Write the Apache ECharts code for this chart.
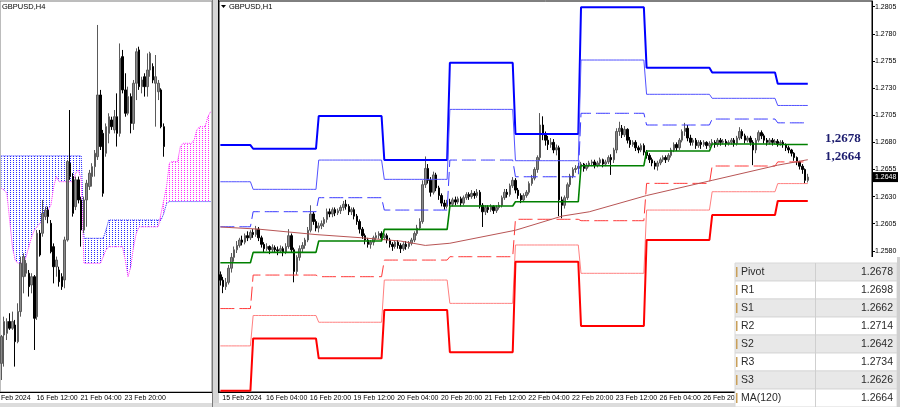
<!DOCTYPE html>
<html><head><meta charset="utf-8">
<script src="https://cdn.jsdelivr.net/npm/echarts@6/dist/echarts.min.js"></script>
<style>html,body{margin:0;padding:0;background:#fff}#c{width:900px;height:407px}</style>
</head><body><div id="c"></div>
<script>
// ---------- DATA ----------
// H4 candles (left panel) [open, close, low, high]
const h4Candles = [
[1.25423,1.25555,1.25341,1.25563],[1.25563,1.25629,1.25407,1.25653],[1.25571,1.25629,1.25538,1.25645],
[1.25629,1.25596,1.25588,1.2567],[1.25596,1.25629,1.25588,1.25678],[1.25612,1.2553,1.25407,1.25637],
[1.2553,1.25678,1.25522,1.25719],[1.25678,1.25916,1.25653,1.25949],[1.2585,1.25949,1.25768,1.25965],
[1.25867,1.25916,1.2585,1.25932],[1.25867,1.25801,1.25752,1.25883],[1.25809,1.2585,1.25768,1.25867],
[1.2585,1.25645,1.25489,1.25858],[1.25653,1.26064,1.25637,1.2608],[1.26064,1.25957,1.25949,1.2608],
[1.26064,1.26162,1.26047,1.26228],[1.26146,1.26178,1.26129,1.26195],[1.26178,1.26146,1.26113,1.26195],
[1.26113,1.25973,1.25965,1.26129],[1.25998,1.25899,1.25817,1.26014],[1.25899,1.25932,1.2585,1.25949],
[1.25883,1.25825,1.25801,1.25899],[1.2585,1.25801,1.25785,1.25867],[1.25834,1.26031,1.25793,1.26047],
[1.26031,1.26417,1.26023,1.26425],[1.26409,1.26343,1.26327,1.26671],[1.26343,1.26162,1.26146,1.2636],
[1.26195,1.26327,1.26178,1.26343],[1.26327,1.26228,1.26211,1.26343],[1.26228,1.2608,1.25998,1.26244],
[1.2608,1.26228,1.26064,1.26244],[1.26228,1.2631,1.26096,1.26327],[1.26294,1.2636,1.26277,1.26376],
[1.26343,1.26392,1.26294,1.26409],[1.26392,1.26458,1.26343,1.26474],[1.26441,1.26745,1.26425,1.2709],
[1.26745,1.26491,1.26474,1.2677],[1.26556,1.26261,1.26244,1.26573],[1.26458,1.26589,1.26441,1.26605],
[1.26556,1.26638,1.26507,1.26655],[1.26622,1.26589,1.26573,1.26638],[1.26573,1.26638,1.26556,1.26671],
[1.26638,1.26556,1.26491,1.26753],[1.26556,1.26926,1.2654,1.26999],[1.26934,1.2677,1.26753,1.26967],
[1.2677,1.26655,1.26638,1.26852],[1.26655,1.26737,1.26645,1.26786],[1.26737,1.26605,1.26556,1.26753],
[1.26605,1.26803,1.26573,1.26819],[1.26803,1.26958,1.2672,1.26975],[1.26967,1.26786,1.2677,1.26983],
[1.26786,1.26819,1.26753,1.26835],[1.26835,1.26786,1.26737,1.26852],[1.26786,1.26868,1.26737,1.2695],
[1.26868,1.2695,1.26835,1.26958],[1.26885,1.26819,1.26803,1.26901],[1.26803,1.26835,1.26589,1.26942],
[1.26761,1.26803,1.2672,1.26819],[1.2677,1.26589,1.26581,1.26778],[1.26589,1.26491,1.26441,1.26605]
];
// Ichimoku cloud spans (left panel, 26 bars shifted forward)
const spanA = [
1.26445,1.26445,1.26445,1.26445,1.26445,1.26445,1.26445,1.26445,1.26445,1.26445,
1.26445,1.26445,1.26445,1.26445,1.26445,1.26445,1.26445,1.26445,1.26445,1.26445,
1.26445,1.26445,1.26445,1.26445,1.26445,1.26445,1.26445,1.26445,1.26445,1.26445,
1.26039,1.26039,1.26039,1.26039,1.26039,1.26039,1.26039,1.26039,1.2608,
1.26129,1.26129,1.26129,1.26129,1.26129,1.26129,1.26129,1.26129,1.26129,1.26129,
1.26129,1.26129,1.26129,1.26129,1.26129,1.26129,1.26129,1.26129,1.26129,1.26129,
1.26162,1.26211,
1.2622,1.2622,1.2622,1.2622,1.2622,1.2622,1.2622,1.2622,1.2622,1.2622,1.2622,1.2622,1.2622,1.2622,1.2622,1.2622
];
const spanB = [
1.26285,1.26277,1.26261,1.26129,1.25998,1.25932,1.25916,1.25916,1.25916,1.25949,
1.25998,1.26047,1.2608,1.26096,1.26113,1.26129,1.26154,1.26178,1.26203,1.26294,
1.26343,1.26318,1.26318,1.26318,1.26318,1.26318,1.26318,1.2636,1.26376,1.26327,
1.25916,1.25916,1.25916,1.25916,1.25916,1.25916,1.25916,1.25949,1.25982,
1.25998,1.25998,1.25998,1.25998,1.25998,1.25998,1.25932,1.2585,1.25899,1.25998,
1.26064,1.26096,1.26096,1.26096,1.26096,1.26096,1.26096,1.26096,1.26096,1.26162,
1.26228,1.26294,
1.26409,1.26417,1.26417,1.26417,1.26491,1.26507,1.26507,1.26507,1.26507,1.26523,1.26573,1.26589,1.26589,1.26589,1.26638,1.26663
];
const leftTickLabels = {12:'16 Feb 12:00', 28:'21 Feb 04:00', 44:'23 Feb 20:00'};

// H1 candles (right panel) [open, close, low, high]
const h1Candles = [
[1.2558,1.2553,1.2548,1.2561],[1.2553,1.2547,1.2541,1.2556],[1.2547,1.2551,1.2544,1.2555],[1.2551,1.2564,1.2549,1.2567],
[1.2564,1.2574,1.2560,1.2578],[1.2574,1.2581,1.2570,1.2584],[1.2581,1.2585,1.2578,1.2589],[1.2585,1.2590,1.2583,1.2592],
[1.2590,1.2588,1.2585,1.2594],[1.2588,1.2594,1.2586,1.2596],[1.2594,1.2592,1.2589,1.2598],[1.2592,1.2597,1.2590,1.2599],
[1.2597,1.2595,1.2592,1.2600],[1.2595,1.2600,1.2593,1.2603],[1.2600,1.2592,1.2589,1.2602],[1.2592,1.2586,1.2583,1.2594],
[1.2586,1.2582,1.2579,1.2588],[1.2582,1.2584,1.2580,1.2587],[1.2584,1.2581,1.2577,1.2585],[1.2581,1.2583,1.2579,1.2586],
[1.2583,1.2581,1.2578,1.2585],[1.2581,1.2580,1.2576,1.2584],[1.2580,1.2582,1.2578,1.2585],[1.2582,1.2579,1.2575,1.2584],
[1.2579,1.2584,1.2577,1.2587],[1.2584,1.2594,1.2582,1.2600],[1.2594,1.2581,1.2578,1.2596],[1.2581,1.2561,1.2551,1.2583],
[1.2561,1.2574,1.2558,1.2576],[1.2574,1.2582,1.2571,1.2585],[1.2582,1.2585,1.2579,1.2588],[1.2585,1.2590,1.2582,1.2592],
[1.2590,1.2599,1.2588,1.2602],[1.2599,1.2614,1.2597,1.2622],[1.2614,1.2607,1.2604,1.2616],[1.2607,1.2601,1.2598,1.2609],
[1.2601,1.2603,1.2597,1.2606],[1.2603,1.2605,1.2600,1.2608],[1.2605,1.2609,1.2602,1.2611],[1.2609,1.2616,1.2606,1.2619],
[1.2616,1.2614,1.2611,1.2619],[1.2614,1.2618,1.2611,1.2620],[1.2618,1.2615,1.2612,1.2620],[1.2615,1.2617,1.2613,1.2619],
[1.2617,1.2620,1.2614,1.2622],[1.2620,1.2623,1.2617,1.2626],[1.2623,1.2621,1.2618,1.2627],[1.2621,1.2616,1.2613,1.2623],
[1.2616,1.2618,1.2613,1.2620],[1.2618,1.2612,1.2609,1.2620],[1.2612,1.2607,1.2604,1.2614],[1.2607,1.2600,1.2596,1.2609],
[1.2600,1.2594,1.2591,1.2602],[1.2594,1.2590,1.2586,1.2596],[1.2590,1.2586,1.2583,1.2592],[1.2586,1.2588,1.2582,1.2590],
[1.2588,1.2592,1.2585,1.2594],[1.2592,1.2594,1.2590,1.2597],[1.2594,1.2596,1.2591,1.2598],[1.2596,1.2592,1.2589,1.2598],
[1.2592,1.2594,1.2590,1.2596],[1.2594,1.2590,1.2587,1.2596],[1.2590,1.2586,1.2583,1.2592],[1.2586,1.2584,1.2580,1.2588],
[1.2584,1.2588,1.2582,1.2590],[1.2588,1.2585,1.2582,1.2590],[1.2585,1.2582,1.2578,1.2587],[1.2582,1.2586,1.2580,1.2588],
[1.2586,1.2584,1.2581,1.2589],[1.2584,1.2587,1.2582,1.2589],[1.2587,1.2590,1.2585,1.2592],[1.2590,1.2596,1.2588,1.2598],
[1.2596,1.2601,1.2594,1.2604],[1.2601,1.2607,1.2599,1.2610],[1.2607,1.2641,1.2605,1.2645],[1.2641,1.2656,1.2638,1.2667],
[1.2656,1.2645,1.2642,1.2660],[1.2645,1.2634,1.2630,1.2648],[1.2634,1.2650,1.2632,1.2653],[1.2650,1.2638,1.2635,1.2652],
[1.2638,1.2631,1.2627,1.2640],[1.2631,1.2624,1.2621,1.2633],[1.2624,1.2621,1.2618,1.2627],[1.2621,1.2625,1.2619,1.2627],
[1.2625,1.2623,1.2620,1.2628],[1.2623,1.2627,1.2621,1.2629],[1.2627,1.2625,1.2622,1.2630],[1.2625,1.2628,1.2623,1.2630],
[1.2628,1.2624,1.2621,1.2630],[1.2624,1.2629,1.2622,1.2631],[1.2629,1.2632,1.2627,1.2634],[1.2632,1.2630,1.2627,1.2634],
[1.2630,1.2633,1.2628,1.2636],[1.2633,1.2631,1.2628,1.2635],[1.2631,1.2634,1.2629,1.2637],[1.2634,1.2622,1.2619,1.2636],
[1.2622,1.2616,1.2602,1.2624],[1.2616,1.2620,1.2613,1.2622],[1.2620,1.2618,1.2615,1.2622],[1.2618,1.2621,1.2616,1.2623],
[1.2621,1.2617,1.2614,1.2622],[1.2617,1.2620,1.2615,1.2622],[1.2620,1.2622,1.2618,1.2625],[1.2622,1.2629,1.2620,1.2631],
[1.2629,1.2634,1.2627,1.2637],[1.2634,1.2632,1.2629,1.2637],[1.2632,1.2640,1.2630,1.2642],[1.2640,1.2645,1.2638,1.2648],
[1.2645,1.2636,1.2633,1.2647],[1.2636,1.2631,1.2628,1.2638],[1.2631,1.2627,1.2624,1.2633],[1.2627,1.2631,1.2625,1.2633],
[1.2631,1.2634,1.2629,1.2636],[1.2634,1.2642,1.2632,1.2644],[1.2642,1.2647,1.2640,1.2650],[1.2647,1.2655,1.2645,1.2657],
[1.2655,1.2666,1.2652,1.2668],[1.2666,1.2696,1.2663,1.2707],[1.2696,1.2687,1.2682,1.2704],[1.2687,1.2682,1.2677,1.2690],
[1.2682,1.2678,1.2673,1.2686],[1.2678,1.2680,1.2675,1.2684],[1.2680,1.2673,1.2670,1.2683],[1.2673,1.2675,1.2668,1.2678],
[1.2675,1.2627,1.2612,1.2677],[1.2627,1.2622,1.2610,1.2630],[1.2622,1.2629,1.2619,1.2631],[1.2629,1.2641,1.2627,1.2643],
[1.2641,1.2649,1.2639,1.2651],[1.2649,1.2655,1.2647,1.2657],[1.2655,1.2656,1.2652,1.2659],[1.2656,1.2658,1.2654,1.2661],
[1.2658,1.2660,1.2656,1.2662],[1.2660,1.2656,1.2653,1.2661],[1.2656,1.2659,1.2654,1.2661],[1.2659,1.2661,1.2657,1.2663],
[1.2661,1.2662,1.2658,1.2664],[1.2662,1.2659,1.2656,1.2664],[1.2659,1.2661,1.2657,1.2663],[1.2661,1.2664,1.2659,1.2666],
[1.2664,1.2660,1.2657,1.2665],[1.2660,1.2662,1.2658,1.2664],[1.2662,1.2666,1.2660,1.2668],[1.2666,1.2664,1.2650,1.2669],
[1.2664,1.2673,1.2661,1.2675],[1.2673,1.2690,1.2670,1.2693],[1.2690,1.2693,1.2686,1.2699],[1.2693,1.2687,1.2684,1.2696],
[1.2687,1.2692,1.2685,1.2695],[1.2692,1.2682,1.2679,1.2693],[1.2682,1.2678,1.2675,1.2685],[1.2678,1.2680,1.2676,1.2682],
[1.2680,1.2675,1.2672,1.2682],[1.2675,1.2673,1.2670,1.2677],[1.2673,1.2677,1.2671,1.2679],[1.2677,1.2671,1.2668,1.2679],
[1.2671,1.2668,1.2665,1.2673],[1.2668,1.2664,1.2661,1.2670],[1.2664,1.2661,1.2658,1.2666],[1.2661,1.2658,1.2655,1.2663],
[1.2658,1.2661,1.2654,1.2663],[1.2661,1.2664,1.2659,1.2666],[1.2664,1.2666,1.2662,1.2668],[1.2666,1.2664,1.2661,1.2668],
[1.2664,1.2668,1.2662,1.2670],[1.2668,1.2673,1.2666,1.2675],[1.2673,1.2678,1.2671,1.2680],[1.2678,1.2675,1.2672,1.2680],
[1.2675,1.2682,1.2673,1.2684],[1.2682,1.2690,1.2680,1.2692],[1.2690,1.2693,1.2686,1.2698],[1.2693,1.2684,1.2681,1.2696],
[1.2684,1.2680,1.2677,1.2687],[1.2680,1.2682,1.2677,1.2684],[1.2682,1.2677,1.2674,1.2684],[1.2677,1.2680,1.2675,1.2682],
[1.2680,1.2678,1.2674,1.2682],[1.2678,1.2680,1.2676,1.2682],[1.2680,1.2677,1.2674,1.2681],[1.2677,1.2679,1.2675,1.2681],
[1.2679,1.2680,1.2677,1.2683],[1.2680,1.2678,1.2675,1.2682],[1.2678,1.2682,1.2676,1.2684],[1.2682,1.2680,1.2677,1.2684],
[1.2680,1.2681,1.2678,1.2683],[1.2681,1.2679,1.2676,1.2683],[1.2679,1.2680,1.2677,1.2682],[1.2680,1.2682,1.2678,1.2684],
[1.2682,1.2679,1.2676,1.2684],[1.2679,1.2684,1.2677,1.2686],[1.2684,1.2690,1.2682,1.2694],[1.2690,1.2686,1.2683,1.2692],
[1.2686,1.2682,1.2679,1.2688],[1.2682,1.2684,1.2680,1.2686],[1.2684,1.2680,1.2677,1.2686],[1.2680,1.2673,1.2659,1.2682],
[1.2673,1.2682,1.2670,1.2684],[1.2682,1.2689,1.2680,1.2691],[1.2689,1.2686,1.2683,1.2691],[1.2686,1.2682,1.2679,1.2688],
[1.2682,1.2680,1.2677,1.2684],[1.2680,1.2682,1.2678,1.2684],[1.2682,1.2680,1.2677,1.2684],[1.2680,1.2681,1.2678,1.2683],
[1.2681,1.2679,1.2676,1.2683],[1.2679,1.2680,1.2677,1.2682],[1.2680,1.2678,1.2675,1.2682],[1.2678,1.2675,1.2672,1.2679],
[1.2675,1.2673,1.2670,1.2677],[1.2673,1.2670,1.2667,1.2674],[1.2670,1.2666,1.2663,1.2671],[1.2666,1.2662,1.2659,1.2667],
[1.2662,1.2658,1.2655,1.2663],[1.2658,1.2655,1.2651,1.2660],[1.2655,1.2645,1.2642,1.2656],[1.2645,1.2648,1.2643,1.2651]
];
// daily pivot levels, one per trading day: 15,16,19,20,21,22,23,26,27,28 Feb
const dayStartBar = [0,12,36,60,84,108,132,156,180,204];
const R3 = [1.26775,1.26741,1.27043,1.26637,1.27534,1.26877,1.28045,1.27488,1.27445,1.2734];
const R2 = [1.26437,1.26367,1.26637,1.26459,1.27104,1.26631,1.27559,1.27243,1.27206,1.2714];
const R1 = [1.26022,1.26161,1.2629,1.26176,1.26637,1.26483,1.27068,1.2696,1.27015,1.2698];
const PV = [1.25691,1.25786,1.25891,1.25998,1.26213,1.26253,1.26585,1.2672,1.26785,1.2678];
const S1 = [1.25268,1.25577,1.25562,1.25715,1.25746,1.26091,1.26078,1.26422,1.26582,1.2662];
const S2 = [1.24924,1.25204,1.25142,1.25531,1.25316,1.25854,1.25593,1.26176,1.26345,1.2642];
const S3 = [1.2451,1.24993,1.24809,1.25255,1.24865,1.257,1.25107,1.259,1.2613,1.2626];
// MA(120) read at bar indexes
const ma120 = [[0,1.2602],[14,1.2600],[35,1.2595],[52,1.2592],[66,1.2589],[75,1.2585],[84,1.2587],
  [108,1.2599],[125,1.2612],[135,1.2616],[156,1.2631],[180,1.2645],[204,1.2659],[215,1.2664]];
const rightTickLabels = ['15 Feb 2024','16 Feb 04:00','16 Feb 20:00','19 Feb 12:00','20 Feb 04:00','20 Feb 20:00',
  '21 Feb 12:00','22 Feb 04:00','22 Feb 20:00','23 Feb 12:00','26 Feb 04:00','26 Feb 20:00','27 Feb 12:00','28 Feb 04:00'];
const yTickValues = [1.2580,1.2605,1.2630,1.2655,1.2680,1.2705,1.2730,1.2755,1.2780,1.2805];
const currentPrice = 1.2648;
const calloutValues = [1.2678, 1.2664];
const calloutTexts = ['1,2678','1,2664'];
const tableLabels = ['Pivot','R1','S1','R2','S2','R3','S3','MA(120)'];
const tableValues = ['1.2678','1.2698','1.2662','1.2714','1.2642','1.2734','1.2626','1.2664'];

// ---------- BUILD ----------
const FONT = 'Liberation Sans, Arial, sans-serif';
const LEFT_SLOTS = 77, RIGHT_SLOTS = 239;
const leftCats = Array.from({length: LEFT_SLOTS}, (_, i) => String(i));
const rightCats = Array.from({length: RIGHT_SLOTS}, (_, i) => String(i));

function perBar(levels) {
  const out = [];
  for (let j = 0; j < h1Candles.length; j++) {
    let d = 0;
    while (d + 1 < dayStartBar.length && j >= dayStartBar[d + 1]) d++;
    out.push(levels[d]);
  }
  return out;
}
const cloudBase = spanA.map((a, i) => Math.min(a, spanB[i]));
const blueDiff = spanA.map((a, i) => Math.max(a - spanB[i], 0));
const magDiff = spanA.map((a, i) => Math.max(spanB[i] - a, 0));

function dots(color) {
  const c = document.createElement('canvas'); c.width = 3; c.height = 2;
  const g = c.getContext('2d'); g.fillStyle = color; g.fillRect(1, 0, 1, 1);
  return c;
}

const chart = echarts.init(document.getElementById('c'), null, {renderer: 'canvas', width: 900, height: 407});

function lvl(name, levels, color, width, type, z) {
  return {name, type: 'line', xAxisIndex: 1, yAxisIndex: 1, data: perBar(levels), symbol: 'none',
    lineStyle: {color, width, type}, z: z || 3, silent: true};
}
const candleStyle = {color: '#8a8a8a', color0: '#000000', borderColor: '#5a5a5a', borderColor0: '#000000', borderWidth: 1};

const option = {
  animation: false,
  backgroundColor: '#ffffff',
  grid: [
    {left: 0, top: 1, width: 212, height: 391, show: true, backgroundColor: '#fff', borderColor: '#7a7a7a', borderWidth: 1},
    {left: 219, top: 1, width: 653, height: 391, show: true, backgroundColor: '#fff', borderColor: '#000', borderWidth: 1}
  ],
  xAxis: [
    {type: 'category', gridIndex: 0, data: leftCats, boundaryGap: true,
     axisLine: {lineStyle: {color: '#000'}},
     axisTick: {alignWithLabel: true, length: 3, interval: (i) => leftTickLabels[i] !== undefined, lineStyle: {color: '#000'}},
     axisLabel: {interval: (i) => leftTickLabels[i] !== undefined, formatter: (v, i) => leftTickLabels[i] || '',
       align: 'left', fontSize: 7, fontFamily: FONT, color: '#000', margin: 3, padding: [0, 0, 0, 2]},
     splitLine: {show: false}},
    {type: 'category', gridIndex: 1, data: rightCats, boundaryGap: true,
     axisLine: {lineStyle: {color: '#000'}},
     axisTick: {alignWithLabel: true, length: 3, interval: (i) => i % 16 === 0, lineStyle: {color: '#000'}},
     axisLabel: {interval: (i) => i % 16 === 0, formatter: (v, i) => rightTickLabels[i / 16] || '',
       align: 'left', fontSize: 7, fontFamily: FONT, color: '#000', margin: 3, padding: [0, 0, 0, 2]},
     splitLine: {show: false}}
  ],
  yAxis: [
    {type: 'value', gridIndex: 0, min: 1.25282, max: 1.27208, show: false, splitLine: {show: false}},
    {type: 'value', gridIndex: 1, position: 'right', min: 1.24499, max: 1.28103,
     axisLine: {show: true, lineStyle: {color: '#000'}},
     axisTick: {show: true, customValues: yTickValues, length: 3, lineStyle: {color: '#000'}},
     axisLabel: {customValues: yTickValues, formatter: (v) => v.toFixed(4), fontSize: 7, fontFamily: FONT, color: '#000', margin: 3},
     splitLine: {show: false}}
  ],
  series: [
    // Ichimoku cloud (left)
    {type: 'line', xAxisIndex: 0, yAxisIndex: 0, stack: 'cb', data: cloudBase, symbol: 'none', lineStyle: {opacity: 0}, silent: true, z: 1},
    {type: 'line', xAxisIndex: 0, yAxisIndex: 0, stack: 'cb', data: blueDiff, symbol: 'none', lineStyle: {opacity: 0},
     areaStyle: {color: {image: dots('#2a2aff'), repeat: 'repeat'}, opacity: 1}, silent: true, z: 1},
    {type: 'line', xAxisIndex: 0, yAxisIndex: 0, stack: 'cm', data: cloudBase, symbol: 'none', lineStyle: {opacity: 0}, silent: true, z: 1},
    {type: 'line', xAxisIndex: 0, yAxisIndex: 0, stack: 'cm', data: magDiff, symbol: 'none', lineStyle: {opacity: 0},
     areaStyle: {color: {image: dots('#ff2aff'), repeat: 'repeat'}, opacity: 1}, silent: true, z: 1},
    {type: 'line', xAxisIndex: 0, yAxisIndex: 0, data: spanA, symbol: 'none', lineStyle: {color: '#2020ff', width: 1, type: [1, 1]}, silent: true, z: 2},
    {type: 'line', xAxisIndex: 0, yAxisIndex: 0, data: spanB, symbol: 'none', lineStyle: {color: '#ff20ff', width: 1, type: [1, 1]}, silent: true, z: 2},
    {type: 'candlestick', xAxisIndex: 0, yAxisIndex: 0, data: h4Candles, barWidth: 2, itemStyle: candleStyle, z: 4},
    // right panel
    {type: 'candlestick', xAxisIndex: 1, yAxisIndex: 1, data: h1Candles, barWidth: 2, itemStyle: candleStyle, z: 2},
    lvl('R3', R3, '#0000ff', 2, 'solid'),
    lvl('R2', R2, '#5252ff', 1, 'solid'),
    lvl('R1', R1, '#3a3aff', 1, [14, 5]),
    lvl('Pivot', PV, '#008000', 1.6, 'solid', 4),
    lvl('S1', S1, '#ff3838', 1, [14, 5]),
    lvl('S2', S2, '#ff8080', 1, 'solid'),
    lvl('S3', S3, '#ff0000', 2, 'solid'),
    {name: 'MA(120)', type: 'line', xAxisIndex: 1, yAxisIndex: 1, data: ma120, symbol: 'none',
     lineStyle: {color: '#b85555', width: 1}, z: 3, silent: true}
  ]
};
chart.setOption(option);

// ---------- overlays ----------
const g = [];
g.push({type: 'rect', shape: {x: 212, y: 0, width: 7, height: 407}, style: {fill: '#d6d6d6'}, z: 50});
g.push({type: 'line', shape: {x1: 212.5, y1: 0, x2: 212.5, y2: 407}, style: {stroke: '#7a7a7a', lineWidth: 1}, z: 51});
g.push({type: 'line', shape: {x1: 218.5, y1: 0, x2: 218.5, y2: 393}, style: {stroke: '#000', lineWidth: 1}, z: 51});
g.push({type: 'rect', shape: {x: 0, y: 403, width: 736, height: 4}, style: {fill: '#dcdcdc'}, z: 50});
g.push({type: 'text', x: 2, y: 3, style: {text: 'GBPUSD,H4', font: '7.5px ' + FONT, fill: '#000'}, z: 52});
g.push({type: 'polygon', shape: {points: [[221, 5], [226, 5], [223.5, 8]]}, style: {fill: '#000'}, z: 52});
g.push({type: 'text', x: 229, y: 3, style: {text: 'GBPUSD,H1', font: '7.5px ' + FONT, fill: '#000'}, z: 52});
g.push({type: 'text', x: 1, y: 395, style: {text: 'Feb 2024', font: '7px ' + FONT, fill: '#000'}, z: 52});
const calloutOffsets = [-6, -3];
calloutValues.forEach((v, k) => {
  const p = chart.convertToPixel({gridIndex: 1}, [215, v]);
  g.push({type: 'text', x: 825, y: p[1] + calloutOffsets[k], style: {text: calloutTexts[k], font: 'bold 13px Liberation Serif, Times New Roman, serif',
    fill: '#1c1c6e', verticalAlign: 'middle'}, z: 60});
});
{
  const p = chart.convertToPixel({gridIndex: 1}, [215, currentPrice]);
  g.push({type: 'rect', shape: {x: 873, y: p[1] - 5, width: 25, height: 10}, style: {fill: '#000'}, z: 60});
  g.push({type: 'text', x: 875, y: p[1], style: {text: currentPrice.toFixed(4), font: '7px ' + FONT, fill: '#fff', verticalAlign: 'middle'}, z: 61});
}
const TX = 735, TW = 162, TY = 263, RH = 18;
g.push({type: 'rect', shape: {x: TX, y: TY - 6, width: 900 - TX, height: 407 - TY + 6}, style: {fill: '#fff'}, z: 70});
tableLabels.forEach((lab, k) => {
  const y = TY + k * RH;
  g.push({type: 'rect', shape: {x: TX, y: y, width: TW, height: RH}, style: {fill: k % 2 === 0 ? '#e8e8e8' : '#ffffff', stroke: '#d8d8d8', lineWidth: 1}, z: 71});
  g.push({type: 'rect', shape: {x: TX + 1, y: y + 4, width: 1.5, height: 10}, style: {fill: '#c9a05a'}, z: 72});
  g.push({type: 'text', x: TX + 6, y: y + RH / 2, style: {text: lab, font: '10.5px ' + FONT, fill: '#2a2a2a', verticalAlign: 'middle'}, z: 72});
  g.push({type: 'text', x: TX + TW - 4, y: y + RH / 2, style: {text: tableValues[k], font: '10.5px ' + FONT, fill: '#2a2a2a', verticalAlign: 'middle', align: 'right'}, z: 72});
});
g.push({type: 'line', shape: {x1: 815.5, y1: TY, x2: 815.5, y2: 407}, style: {stroke: '#cfcfcf', lineWidth: 1}, z: 73});
g.push({type: 'rect', shape: {x: 897, y: TY - 6, width: 3, height: 407 - TY + 6}, style: {fill: '#cfcfcf'}, z: 73});
chart.setOption({graphic: g});
</script></body></html>
